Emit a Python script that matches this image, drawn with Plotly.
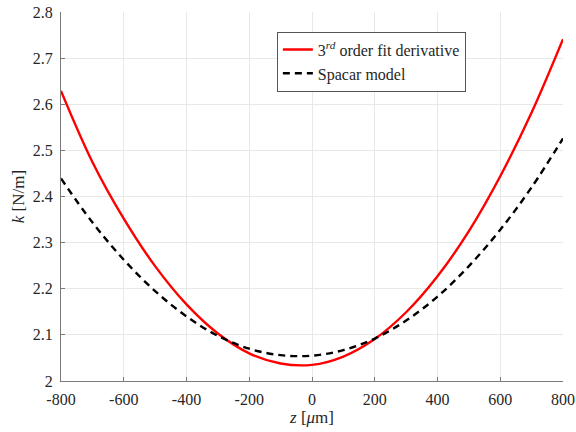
import plotly.graph_objects as go

z_um = [-800, -700, -600, -500, -400, -300, -200, -100, 0, 100, 200, 300, 400, 500, 600, 700, 800]
k_fit = [2.629, 2.475, 2.352, 2.249, 2.166, 2.103, 2.060, 2.038, 2.035, 2.053, 2.091, 2.149, 2.227, 2.325, 2.444, 2.582, 2.741]
k_spacar = [2.439, 2.344, 2.263, 2.195, 2.140, 2.098, 2.070, 2.056, 2.055, 2.067, 2.092, 2.131, 2.183, 2.249, 2.328, 2.420, 2.526]

x_ticks = [-800, -600, -400, -200, 0, 200, 400, 600, 800]
x_ticktext = ["-800", "-600", "-400", "-200", "0", "200", "400", "600", "800"]
y_ticks = [2.0, 2.1, 2.2, 2.3, 2.4, 2.5, 2.6, 2.7, 2.8]
y_ticktext = ["2", "2.1", "2.2", "2.3", "2.4", "2.5", "2.6", "2.7", "2.8"]

FONT = "Liberation Serif"
TXT = "#262626"

fig = go.Figure()
fig.add_trace(go.Scatter(
    x=z_um, y=k_fit, mode="lines", line_shape="spline",
    line=dict(color="#ff0000", width=2.4),
    name="3<sup><i>rd</i></sup> order fit derivative"))
fig.add_trace(go.Scatter(
    x=z_um, y=k_spacar, mode="lines", line_shape="spline",
    line=dict(color="#000000", width=2.4, dash="7px,5px"),
    name="Spacar model"))

axis_common = dict(
    showgrid=True, gridcolor="#e8e8e8", gridwidth=1,
    showline=True, linecolor="#7a7a7a", linewidth=1, mirror=False,
    ticks="inside", ticklen=4, tickcolor="#7a7a7a",
    zeroline=False, automargin=False,
    tickfont=dict(family=FONT, size=16, color=TXT),
)

fig.update_layout(
    width=576, height=432,
    margin=dict(l=61, r=13, t=12, b=51, autoexpand=False),
    paper_bgcolor="white", plot_bgcolor="white",
    font=dict(family=FONT, color=TXT),
    showlegend=True,
    legend=dict(
        x=0.43, y=0.947, xanchor="left", yanchor="top",
        bgcolor="white", bordercolor="#555555", borderwidth=1,
        font=dict(family=FONT, size=16, color=TXT),
        tracegroupgap=0, itemwidth=30,
    ),
    xaxis=dict(
        range=[-800, 800], tickvals=x_ticks, ticktext=x_ticktext,
        ticklabelstandoff=4,
        title=dict(text="<i>z</i> [<i>μ</i>m]", font=dict(family=FONT, size=17, color=TXT), standoff=2),
        **axis_common),
    yaxis=dict(
        range=[2.0, 2.8], tickvals=y_ticks, ticktext=y_ticktext,
        ticklabelstandoff=4,
        title=dict(text="<i>k</i> [N/m]", font=dict(family=FONT, size=17, color=TXT), standoff=3),
        **axis_common),
)

fig.write_html("out.html")
